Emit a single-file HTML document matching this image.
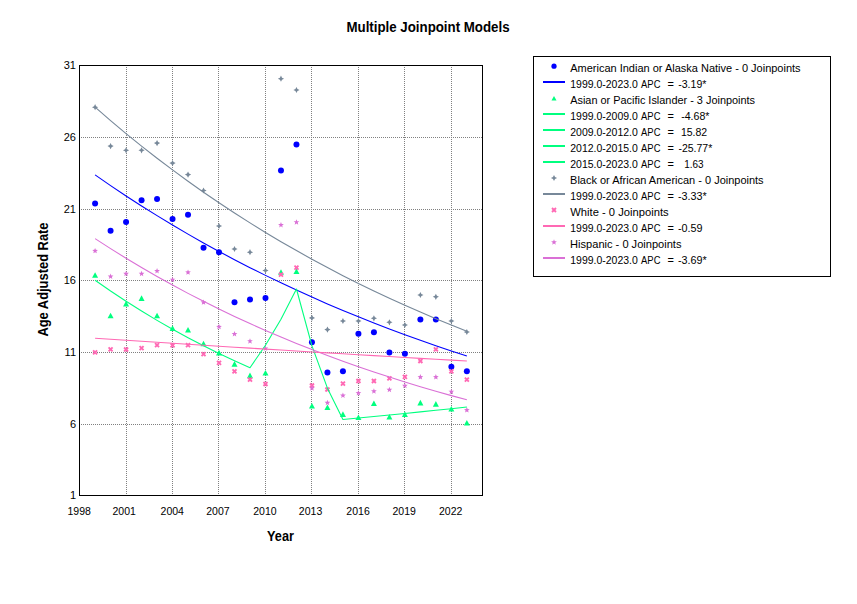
<!DOCTYPE html>
<html><head><meta charset="utf-8"><style>
html,body{margin:0;padding:0;background:#fff;width:857px;height:604px;overflow:hidden}
svg{display:block}
text{font-family:"Liberation Sans",sans-serif;fill:#000}
</style></head><body>
<svg width="857" height="604" viewBox="0 0 857 604">
<rect width="857" height="604" fill="#fff"/>

<text x="346.51" y="31.8" font-size="13.8" textLength="163.03" lengthAdjust="spacingAndGlyphs" font-weight="bold">Multiple Joinpoint Models</text>
<g shape-rendering="crispEdges"><line x1="126.5" y1="67" x2="126.5" y2="495" stroke="#808080" stroke-width="1" stroke-dasharray="1 1" stroke-dashoffset="0"/><line x1="172.5" y1="67" x2="172.5" y2="495" stroke="#808080" stroke-width="1" stroke-dasharray="1 1" stroke-dashoffset="0"/><line x1="218.5" y1="67" x2="218.5" y2="495" stroke="#808080" stroke-width="1" stroke-dasharray="1 1" stroke-dashoffset="0"/><line x1="265.5" y1="67" x2="265.5" y2="495" stroke="#808080" stroke-width="1" stroke-dasharray="1 1" stroke-dashoffset="0"/><line x1="311.5" y1="67" x2="311.5" y2="495" stroke="#808080" stroke-width="1" stroke-dasharray="1 1" stroke-dashoffset="0"/><line x1="358.5" y1="67" x2="358.5" y2="495" stroke="#808080" stroke-width="1" stroke-dasharray="1 1" stroke-dashoffset="0"/><line x1="404.5" y1="67" x2="404.5" y2="495" stroke="#808080" stroke-width="1" stroke-dasharray="1 1" stroke-dashoffset="0"/><line x1="451.5" y1="67" x2="451.5" y2="495" stroke="#808080" stroke-width="1" stroke-dasharray="1 1" stroke-dashoffset="0"/><line x1="81" y1="137.5" x2="482" y2="137.5" stroke="#808080" stroke-width="1" stroke-dasharray="1 1"/><line x1="81" y1="209.5" x2="482" y2="209.5" stroke="#808080" stroke-width="1" stroke-dasharray="1 1"/><line x1="81" y1="280.5" x2="482" y2="280.5" stroke="#808080" stroke-width="1" stroke-dasharray="1 1"/><line x1="81" y1="352.5" x2="482" y2="352.5" stroke="#808080" stroke-width="1" stroke-dasharray="1 1"/><line x1="81" y1="424.5" x2="482" y2="424.5" stroke="#808080" stroke-width="1" stroke-dasharray="1 1"/></g>
<rect x="79.5" y="65.5" width="403" height="430" fill="none" stroke="#000" stroke-width="1" shape-rendering="crispEdges"/>
<text x="76" y="68.6" text-anchor="end" font-size="11">31</text>
<text x="76" y="140.6" text-anchor="end" font-size="11">26</text>
<text x="76" y="212.6" text-anchor="end" font-size="11">21</text>
<text x="76" y="283.6" text-anchor="end" font-size="11">16</text>
<text x="76" y="355.6" text-anchor="end" font-size="11">11</text>
<text x="76" y="427.6" text-anchor="end" font-size="11">6</text>
<text x="76" y="498.6" text-anchor="end" font-size="11">1</text>
<text x="79.15" y="515" text-anchor="middle" font-size="10.5">1998</text>
<text x="124.15" y="515" text-anchor="middle" font-size="10.5">2001</text>
<text x="172.25" y="515" text-anchor="middle" font-size="10.5">2004</text>
<text x="217.95" y="515" text-anchor="middle" font-size="10.5">2007</text>
<text x="264.95" y="515" text-anchor="middle" font-size="10.5">2010</text>
<text x="310.55" y="515" text-anchor="middle" font-size="10.5">2013</text>
<text x="358.05" y="515" text-anchor="middle" font-size="10.5">2016</text>
<text x="404.15" y="515" text-anchor="middle" font-size="10.5">2019</text>
<text x="450.70" y="515" text-anchor="middle" font-size="10.5">2022</text>
<text x="267.09" y="540.7" font-size="13.8" textLength="26.90" lengthAdjust="spacingAndGlyphs" font-weight="bold">Year</text>
<g transform="rotate(-90)"><text x="-336.62" y="48" font-size="13.8" textLength="114.16" lengthAdjust="spacingAndGlyphs" font-weight="bold">Age Adjusted Rate</text></g>
<g><circle cx="95.09" cy="203.40" r="3" fill="#0000FF"/><path d="M95.09,272.20 L98.09,277.80 L92.09,277.80 Z" fill="#00FF7F"/><path d="M95.09,104.10 94.06,106.17 91.99,107.20 94.06,108.23 95.09,110.30 96.12,108.23 98.19,107.20 96.12,106.17 Z" fill="#778899"/><path d="M93.09,350.40 L97.09,354.40 M97.09,350.40 L93.09,354.40" stroke="#FF69B4" stroke-width="1.9" fill="none"/><path d="M95.09,247.90 94.33,249.85 92.24,249.97 93.85,251.30 93.33,253.33 95.09,252.20 96.85,253.33 96.33,251.30 97.94,249.97 95.85,249.85 Z" fill="#DA70D6"/><circle cx="110.58" cy="230.70" r="3" fill="#0000FF"/><path d="M110.58,312.70 L113.58,318.30 L107.58,318.30 Z" fill="#00FF7F"/><path d="M110.58,143.00 109.55,145.07 107.48,146.10 109.55,147.13 110.58,149.20 111.61,147.13 113.68,146.10 111.61,145.07 Z" fill="#778899"/><path d="M108.58,347.40 L112.58,351.40 M112.58,347.40 L108.58,351.40" stroke="#FF69B4" stroke-width="1.9" fill="none"/><path d="M110.58,273.50 109.82,275.45 107.73,275.57 109.34,276.90 108.82,278.93 110.58,277.80 112.34,278.93 111.82,276.90 113.43,275.57 111.34,275.45 Z" fill="#DA70D6"/><circle cx="126.07" cy="222.10" r="3" fill="#0000FF"/><path d="M126.07,300.80 L129.07,306.40 L123.07,306.40 Z" fill="#00FF7F"/><path d="M126.07,147.20 125.04,149.27 122.97,150.30 125.04,151.33 126.07,153.40 127.10,151.33 129.17,150.30 127.10,149.27 Z" fill="#778899"/><path d="M124.07,347.50 L128.07,351.50 M128.07,347.50 L124.07,351.50" stroke="#FF69B4" stroke-width="1.9" fill="none"/><path d="M126.07,270.80 125.31,272.75 123.22,272.87 124.83,274.20 124.31,276.23 126.07,275.10 127.83,276.23 127.31,274.20 128.92,272.87 126.83,272.75 Z" fill="#DA70D6"/><circle cx="141.56" cy="200.20" r="3" fill="#0000FF"/><path d="M141.56,295.30 L144.56,300.90 L138.56,300.90 Z" fill="#00FF7F"/><path d="M141.56,147.20 140.53,149.27 138.46,150.30 140.53,151.33 141.56,153.40 142.59,151.33 144.66,150.30 142.59,149.27 Z" fill="#778899"/><path d="M139.56,346.20 L143.56,350.20 M143.56,346.20 L139.56,350.20" stroke="#FF69B4" stroke-width="1.9" fill="none"/><path d="M141.56,270.80 140.80,272.75 138.71,272.87 140.32,274.20 139.80,276.23 141.56,275.10 143.32,276.23 142.80,274.20 144.41,272.87 142.32,272.75 Z" fill="#DA70D6"/><circle cx="157.05" cy="199.10" r="3" fill="#0000FF"/><path d="M157.05,312.70 L160.05,318.30 L154.05,318.30 Z" fill="#00FF7F"/><path d="M157.05,140.00 156.02,142.07 153.95,143.10 156.02,144.13 157.05,146.20 158.08,144.13 160.15,143.10 158.08,142.07 Z" fill="#778899"/><path d="M155.05,343.20 L159.05,347.20 M159.05,343.20 L155.05,347.20" stroke="#FF69B4" stroke-width="1.9" fill="none"/><path d="M157.05,268.00 156.29,269.95 154.20,270.07 155.81,271.40 155.29,273.43 157.05,272.30 158.81,273.43 158.29,271.40 159.90,270.07 157.81,269.95 Z" fill="#DA70D6"/><circle cx="172.54" cy="218.90" r="3" fill="#0000FF"/><path d="M172.54,325.30 L175.54,330.90 L169.54,330.90 Z" fill="#00FF7F"/><path d="M172.54,160.00 171.51,162.07 169.44,163.10 171.51,164.13 172.54,166.20 173.57,164.13 175.64,163.10 173.57,162.07 Z" fill="#778899"/><path d="M170.54,343.30 L174.54,347.30 M174.54,343.30 L170.54,347.30" stroke="#FF69B4" stroke-width="1.9" fill="none"/><path d="M172.54,276.70 171.78,278.65 169.69,278.77 171.30,280.10 170.78,282.13 172.54,281.00 174.30,282.13 173.78,280.10 175.39,278.77 173.30,278.65 Z" fill="#DA70D6"/><circle cx="188.03" cy="214.70" r="3" fill="#0000FF"/><path d="M188.03,326.90 L191.03,332.50 L185.03,332.50 Z" fill="#00FF7F"/><path d="M188.03,171.50 187.00,173.57 184.93,174.60 187.00,175.63 188.03,177.70 189.06,175.63 191.13,174.60 189.06,173.57 Z" fill="#778899"/><path d="M186.03,343.10 L190.03,347.10 M190.03,343.10 L186.03,347.10" stroke="#FF69B4" stroke-width="1.9" fill="none"/><path d="M188.03,269.40 187.27,271.35 185.18,271.47 186.79,272.80 186.27,274.83 188.03,273.70 189.79,274.83 189.27,272.80 190.88,271.47 188.79,271.35 Z" fill="#DA70D6"/><circle cx="203.52" cy="247.70" r="3" fill="#0000FF"/><path d="M203.52,340.70 L206.52,346.30 L200.52,346.30 Z" fill="#00FF7F"/><path d="M203.52,187.40 202.49,189.47 200.42,190.50 202.49,191.53 203.52,193.60 204.55,191.53 206.62,190.50 204.55,189.47 Z" fill="#778899"/><path d="M201.52,352.10 L205.52,356.10 M205.52,352.10 L201.52,356.10" stroke="#FF69B4" stroke-width="1.9" fill="none"/><path d="M203.52,299.40 202.76,301.35 200.67,301.47 202.28,302.80 201.76,304.83 203.52,303.70 205.28,304.83 204.76,302.80 206.37,301.47 204.28,301.35 Z" fill="#DA70D6"/><circle cx="219.01" cy="252.20" r="3" fill="#0000FF"/><path d="M219.01,349.80 L222.01,355.40 L216.01,355.40 Z" fill="#00FF7F"/><path d="M219.01,222.90 217.98,224.97 215.91,226.00 217.98,227.03 219.01,229.10 220.04,227.03 222.11,226.00 220.04,224.97 Z" fill="#778899"/><path d="M217.01,360.80 L221.01,364.80 M221.01,360.80 L217.01,364.80" stroke="#FF69B4" stroke-width="1.9" fill="none"/><path d="M219.01,323.90 218.25,325.85 216.16,325.97 217.77,327.30 217.25,329.33 219.01,328.20 220.77,329.33 220.25,327.30 221.86,325.97 219.77,325.85 Z" fill="#DA70D6"/><circle cx="234.50" cy="302.30" r="3" fill="#0000FF"/><path d="M234.50,361.10 L237.50,366.70 L231.50,366.70 Z" fill="#00FF7F"/><path d="M234.50,245.90 233.47,247.97 231.40,249.00 233.47,250.03 234.50,252.10 235.53,250.03 237.60,249.00 235.53,247.97 Z" fill="#778899"/><path d="M232.50,369.40 L236.50,373.40 M236.50,369.40 L232.50,373.40" stroke="#FF69B4" stroke-width="1.9" fill="none"/><path d="M234.50,331.00 233.74,332.95 231.65,333.07 233.26,334.40 232.74,336.43 234.50,335.30 236.26,336.43 235.74,334.40 237.35,333.07 235.26,332.95 Z" fill="#DA70D6"/><circle cx="249.99" cy="299.40" r="3" fill="#0000FF"/><path d="M249.99,372.60 L252.99,378.20 L246.99,378.20 Z" fill="#00FF7F"/><path d="M249.99,249.10 248.96,251.17 246.89,252.20 248.96,253.23 249.99,255.30 251.02,253.23 253.09,252.20 251.02,251.17 Z" fill="#778899"/><path d="M247.99,377.70 L251.99,381.70 M251.99,377.70 L247.99,381.70" stroke="#FF69B4" stroke-width="1.9" fill="none"/><path d="M249.99,338.20 249.23,340.15 247.14,340.27 248.75,341.60 248.23,343.63 249.99,342.50 251.75,343.63 251.23,341.60 252.84,340.27 250.75,340.15 Z" fill="#DA70D6"/><circle cx="265.48" cy="298.00" r="3" fill="#0000FF"/><path d="M265.48,370.00 L268.48,375.60 L262.48,375.60 Z" fill="#00FF7F"/><path d="M265.48,267.40 264.45,269.47 262.38,270.50 264.45,271.53 265.48,273.60 266.51,271.53 268.58,270.50 266.51,269.47 Z" fill="#778899"/><path d="M263.48,382.00 L267.48,386.00 M267.48,382.00 L263.48,386.00" stroke="#FF69B4" stroke-width="1.9" fill="none"/><path d="M265.48,345.50 264.72,347.45 262.63,347.57 264.24,348.90 263.72,350.93 265.48,349.80 267.24,350.93 266.72,348.90 268.33,347.57 266.24,347.45 Z" fill="#DA70D6"/><circle cx="280.97" cy="170.40" r="3" fill="#0000FF"/><path d="M280.97,269.20 L283.97,274.80 L277.97,274.80 Z" fill="#00FF7F"/><path d="M280.97,75.60 279.94,77.67 277.87,78.70 279.94,79.73 280.97,81.80 282.00,79.73 284.07,78.70 282.00,77.67 Z" fill="#778899"/><path d="M278.97,272.60 L282.97,276.60 M282.97,272.60 L278.97,276.60" stroke="#FF69B4" stroke-width="1.9" fill="none"/><path d="M280.97,222.00 280.21,223.95 278.12,224.07 279.73,225.40 279.21,227.43 280.97,226.30 282.73,227.43 282.21,225.40 283.82,224.07 281.73,223.95 Z" fill="#DA70D6"/><circle cx="296.46" cy="144.60" r="3" fill="#0000FF"/><path d="M296.46,268.50 L299.46,274.10 L293.46,274.10 Z" fill="#00FF7F"/><path d="M296.46,86.90 295.43,88.97 293.36,90.00 295.43,91.03 296.46,93.10 297.49,91.03 299.56,90.00 297.49,88.97 Z" fill="#778899"/><path d="M294.46,265.60 L298.46,269.60 M298.46,265.60 L294.46,269.60" stroke="#FF69B4" stroke-width="1.9" fill="none"/><path d="M296.46,219.20 295.70,221.15 293.61,221.27 295.22,222.60 294.70,224.63 296.46,223.50 298.22,224.63 297.70,222.60 299.31,221.27 297.22,221.15 Z" fill="#DA70D6"/><circle cx="311.95" cy="342.30" r="3" fill="#0000FF"/><path d="M311.95,402.90 L314.95,408.50 L308.95,408.50 Z" fill="#00FF7F"/><path d="M311.95,314.80 310.92,316.87 308.85,317.90 310.92,318.93 311.95,321.00 312.98,318.93 315.05,317.90 312.98,316.87 Z" fill="#778899"/><path d="M309.95,383.50 L313.95,387.50 M313.95,383.50 L309.95,387.50" stroke="#FF69B4" stroke-width="1.9" fill="none"/><path d="M311.95,385.20 311.19,387.15 309.10,387.27 310.71,388.60 310.19,390.63 311.95,389.50 313.71,390.63 313.19,388.60 314.80,387.27 312.71,387.15 Z" fill="#DA70D6"/><circle cx="327.44" cy="372.40" r="3" fill="#0000FF"/><path d="M327.44,404.40 L330.44,410.00 L324.44,410.00 Z" fill="#00FF7F"/><path d="M327.44,326.50 326.41,328.57 324.34,329.60 326.41,330.63 327.44,332.70 328.47,330.63 330.54,329.60 328.47,328.57 Z" fill="#778899"/><path d="M325.44,387.50 L329.44,391.50 M329.44,387.50 L325.44,391.50" stroke="#FF69B4" stroke-width="1.9" fill="none"/><path d="M327.44,399.80 326.68,401.75 324.59,401.87 326.20,403.20 325.68,405.23 327.44,404.10 329.20,405.23 328.68,403.20 330.29,401.87 328.20,401.75 Z" fill="#DA70D6"/><circle cx="342.93" cy="371.30" r="3" fill="#0000FF"/><path d="M342.93,411.30 L345.93,416.90 L339.93,416.90 Z" fill="#00FF7F"/><path d="M342.93,317.90 341.90,319.97 339.83,321.00 341.90,322.03 342.93,324.10 343.96,322.03 346.03,321.00 343.96,319.97 Z" fill="#778899"/><path d="M340.93,381.70 L344.93,385.70 M344.93,381.70 L340.93,385.70" stroke="#FF69B4" stroke-width="1.9" fill="none"/><path d="M342.93,392.50 342.17,394.45 340.08,394.57 341.69,395.90 341.17,397.93 342.93,396.80 344.69,397.93 344.17,395.90 345.78,394.57 343.69,394.45 Z" fill="#DA70D6"/><circle cx="358.42" cy="333.80" r="3" fill="#0000FF"/><path d="M358.42,414.40 L361.42,420.00 L355.42,420.00 Z" fill="#00FF7F"/><path d="M358.42,317.90 357.39,319.97 355.32,321.00 357.39,322.03 358.42,324.10 359.45,322.03 361.52,321.00 359.45,319.97 Z" fill="#778899"/><path d="M356.42,379.00 L360.42,383.00 M360.42,379.00 L356.42,383.00" stroke="#FF69B4" stroke-width="1.9" fill="none"/><path d="M358.42,390.10 357.66,392.05 355.57,392.17 357.18,393.50 356.66,395.53 358.42,394.40 360.18,395.53 359.66,393.50 361.27,392.17 359.18,392.05 Z" fill="#DA70D6"/><circle cx="373.91" cy="332.30" r="3" fill="#0000FF"/><path d="M373.91,400.40 L376.91,406.00 L370.91,406.00 Z" fill="#00FF7F"/><path d="M373.91,315.20 372.88,317.27 370.81,318.30 372.88,319.33 373.91,321.40 374.94,319.33 377.01,318.30 374.94,317.27 Z" fill="#778899"/><path d="M371.91,379.00 L375.91,383.00 M375.91,379.00 L371.91,383.00" stroke="#FF69B4" stroke-width="1.9" fill="none"/><path d="M373.91,388.30 373.15,390.25 371.06,390.37 372.67,391.70 372.15,393.73 373.91,392.60 375.67,393.73 375.15,391.70 376.76,390.37 374.67,390.25 Z" fill="#DA70D6"/><circle cx="389.40" cy="352.40" r="3" fill="#0000FF"/><path d="M389.40,413.90 L392.40,419.50 L386.40,419.50 Z" fill="#00FF7F"/><path d="M389.40,319.20 388.37,321.27 386.30,322.30 388.37,323.33 389.40,325.40 390.43,323.33 392.50,322.30 390.43,321.27 Z" fill="#778899"/><path d="M387.40,376.30 L391.40,380.30 M391.40,376.30 L387.40,380.30" stroke="#FF69B4" stroke-width="1.9" fill="none"/><path d="M389.40,386.80 388.64,388.75 386.55,388.87 388.16,390.20 387.64,392.23 389.40,391.10 391.16,392.23 390.64,390.20 392.25,388.87 390.16,388.75 Z" fill="#DA70D6"/><circle cx="404.89" cy="353.80" r="3" fill="#0000FF"/><path d="M404.89,411.30 L407.89,416.90 L401.89,416.90 Z" fill="#00FF7F"/><path d="M404.89,321.90 403.86,323.97 401.79,325.00 403.86,326.03 404.89,328.10 405.92,326.03 407.99,325.00 405.92,323.97 Z" fill="#778899"/><path d="M402.89,374.80 L406.89,378.80 M406.89,374.80 L402.89,378.80" stroke="#FF69B4" stroke-width="1.9" fill="none"/><path d="M404.89,382.80 404.13,384.75 402.04,384.87 403.65,386.20 403.13,388.23 404.89,387.10 406.65,388.23 406.13,386.20 407.74,384.87 405.65,384.75 Z" fill="#DA70D6"/><circle cx="420.38" cy="319.40" r="3" fill="#0000FF"/><path d="M420.38,399.80 L423.38,405.40 L417.38,405.40 Z" fill="#00FF7F"/><path d="M420.38,291.90 419.35,293.97 417.28,295.00 419.35,296.03 420.38,298.10 421.41,296.03 423.48,295.00 421.41,293.97 Z" fill="#778899"/><path d="M418.38,359.00 L422.38,363.00 M422.38,359.00 L418.38,363.00" stroke="#FF69B4" stroke-width="1.9" fill="none"/><path d="M420.38,374.10 419.62,376.05 417.53,376.17 419.14,377.50 418.62,379.53 420.38,378.40 422.14,379.53 421.62,377.50 423.23,376.17 421.14,376.05 Z" fill="#DA70D6"/><circle cx="435.87" cy="319.40" r="3" fill="#0000FF"/><path d="M435.87,401.10 L438.87,406.70 L432.87,406.70 Z" fill="#00FF7F"/><path d="M435.87,293.70 434.84,295.77 432.77,296.80 434.84,297.83 435.87,299.90 436.90,297.83 438.97,296.80 436.90,295.77 Z" fill="#778899"/><path d="M433.87,347.40 L437.87,351.40 M437.87,347.40 L433.87,351.40" stroke="#FF69B4" stroke-width="1.9" fill="none"/><path d="M435.87,374.10 435.11,376.05 433.02,376.17 434.63,377.50 434.11,379.53 435.87,378.40 437.63,379.53 437.11,377.50 438.72,376.17 436.63,376.05 Z" fill="#DA70D6"/><circle cx="451.36" cy="366.80" r="3" fill="#0000FF"/><path d="M451.36,405.90 L454.36,411.50 L448.36,411.50 Z" fill="#00FF7F"/><path d="M451.36,317.90 450.33,319.97 448.26,321.00 450.33,322.03 451.36,324.10 452.39,322.03 454.46,321.00 452.39,319.97 Z" fill="#778899"/><path d="M449.36,369.30 L453.36,373.30 M453.36,369.30 L449.36,373.30" stroke="#FF69B4" stroke-width="1.9" fill="none"/><path d="M451.36,388.70 450.60,390.65 448.51,390.77 450.12,392.10 449.60,394.13 451.36,393.00 453.12,394.13 452.60,392.10 454.21,390.77 452.12,390.65 Z" fill="#DA70D6"/><circle cx="466.85" cy="371.30" r="3" fill="#0000FF"/><path d="M466.85,419.90 L469.85,425.50 L463.85,425.50 Z" fill="#00FF7F"/><path d="M466.85,328.90 465.82,330.97 463.75,332.00 465.82,333.03 466.85,335.10 467.88,333.03 469.95,332.00 467.88,330.97 Z" fill="#778899"/><path d="M464.85,377.70 L468.85,381.70 M468.85,377.70 L464.85,381.70" stroke="#FF69B4" stroke-width="1.9" fill="none"/><path d="M466.85,407.10 466.09,409.05 464.00,409.17 465.61,410.50 465.09,412.53 466.85,411.40 468.61,412.53 468.09,410.50 469.70,409.17 467.61,409.05 Z" fill="#DA70D6"/></g>
<defs><clipPath id="pc"><rect x="80" y="66" width="402" height="429"/></clipPath></defs>
<g clip-path="url(#pc)" fill="none" stroke-width="1.1" stroke-linejoin="round">
<polyline points="95.09,107.20 110.58,120.61 126.07,133.57 141.56,146.10 157.05,158.21 172.54,169.92 188.03,181.24 203.52,192.18 219.01,202.76 234.50,212.98 249.99,222.87 265.48,232.43 280.97,241.66 296.46,250.59 311.95,259.23 327.44,267.57 342.93,275.64 358.42,283.44 373.91,290.98 389.40,298.26 404.89,305.31 420.38,312.12 435.87,318.70 451.36,325.07 466.85,331.22" stroke="#778899"/>
<polyline points="95.09,174.90 110.58,185.58 126.07,195.93 141.56,205.94 157.05,215.64 172.54,225.02 188.03,234.11 203.52,242.90 219.01,251.42 234.50,259.66 249.99,267.64 265.48,275.37 280.97,282.85 296.46,290.09 311.95,297.10 327.44,303.88 342.93,310.45 358.42,316.81 373.91,322.97 389.40,328.93 404.89,334.70 420.38,340.29 435.87,345.70 451.36,350.93 466.85,356.00" stroke="#0000FF"/>
<polyline points="95.09,280.30 110.58,291.04 126.07,301.28 141.56,311.04 157.05,320.35 172.54,329.21 188.03,337.67 203.52,345.72 219.01,353.40 234.50,360.72 249.99,367.70 265.48,345.22 280.97,319.18 296.46,289.01 311.95,345.92 327.44,388.16 342.93,419.51 358.42,418.04 373.91,416.55 389.40,415.03 404.89,413.48 420.38,411.91 435.87,410.31 451.36,408.69 466.85,407.04" stroke="#00FF7F"/>
<polyline points="95.09,238.60 110.58,248.61 126.07,258.25 141.56,267.53 157.05,276.47 172.54,285.08 188.03,293.38 203.52,301.36 219.01,309.06 234.50,316.46 249.99,323.60 265.48,330.47 280.97,337.09 296.46,343.46 311.95,349.60 327.44,355.52 342.93,361.21 358.42,366.69 373.91,371.98 389.40,377.06 404.89,381.96 420.38,386.68 435.87,391.22 451.36,395.60 466.85,399.82" stroke="#DA70D6"/>
<polyline points="95.09,338.30 110.58,339.31 126.07,340.32 141.56,341.32 157.05,342.31 172.54,343.30 188.03,344.28 203.52,345.26 219.01,346.23 234.50,347.20 249.99,348.16 265.48,349.11 280.97,350.06 296.46,351.00 311.95,351.94 327.44,352.87 342.93,353.80 358.42,354.72 373.91,355.63 389.40,356.54 404.89,357.45 420.38,358.34 435.87,359.24 451.36,360.13 466.85,361.01" stroke="#FF69B4"/>
</g>
<rect x="533.5" y="56.5" width="297" height="220" fill="none" stroke="#000" stroke-width="1" shape-rendering="crispEdges"/>
<circle cx="554" cy="66.2" r="2.6" fill="#0000FF"/>
<text x="570.18" y="72" font-size="11" textLength="230.42" lengthAdjust="spacingAndGlyphs">American Indian or Alaska Native - 0 Joinpoints</text>
<line x1="543" y1="82" x2="565" y2="82" stroke="#0000FF" stroke-width="2"/>
<text x="570.30" y="88" font-size="11" textLength="67.51" lengthAdjust="spacingAndGlyphs">1999.0-2023.0</text>
<text x="641.08" y="88" font-size="11" textLength="19.38" lengthAdjust="spacingAndGlyphs">APC</text>
<text x="667.5" y="88" font-size="11">=</text>
<text x="678.23" y="88" font-size="11" textLength="28.23" lengthAdjust="spacingAndGlyphs">-3.19*</text>
<path d="M554,96.0 L556.5,100.5 L551.5,100.5 Z" fill="#00FF7F"/>
<text x="570.18" y="104" font-size="11" textLength="184.91" lengthAdjust="spacingAndGlyphs">Asian or Pacific Islander - 3 Joinpoints</text>
<line x1="543" y1="114" x2="565" y2="114" stroke="#00FF7F" stroke-width="2"/>
<text x="570.30" y="120" font-size="11" textLength="67.51" lengthAdjust="spacingAndGlyphs">1999.0-2009.0</text>
<text x="641.08" y="120" font-size="11" textLength="19.38" lengthAdjust="spacingAndGlyphs">APC</text>
<text x="667.5" y="120" font-size="11">=</text>
<text x="681.23" y="120" font-size="11" textLength="28.23" lengthAdjust="spacingAndGlyphs">-4.68*</text>
<line x1="543" y1="130" x2="565" y2="130" stroke="#00FF7F" stroke-width="2"/>
<text x="570.30" y="136" font-size="11" textLength="67.51" lengthAdjust="spacingAndGlyphs">2009.0-2012.0</text>
<text x="641.08" y="136" font-size="11" textLength="19.38" lengthAdjust="spacingAndGlyphs">APC</text>
<text x="667.5" y="136" font-size="11">=</text>
<text x="680.90" y="136" font-size="11" textLength="26.23" lengthAdjust="spacingAndGlyphs">15.82</text>
<line x1="543" y1="146" x2="565" y2="146" stroke="#00FF7F" stroke-width="2"/>
<text x="570.30" y="152" font-size="11" textLength="67.51" lengthAdjust="spacingAndGlyphs">2012.0-2015.0</text>
<text x="641.08" y="152" font-size="11" textLength="19.38" lengthAdjust="spacingAndGlyphs">APC</text>
<text x="667.5" y="152" font-size="11">=</text>
<text x="678.43" y="152" font-size="11" textLength="33.83" lengthAdjust="spacingAndGlyphs">-25.77*</text>
<line x1="543" y1="162" x2="565" y2="162" stroke="#00FF7F" stroke-width="2"/>
<text x="570.30" y="168" font-size="11" textLength="67.51" lengthAdjust="spacingAndGlyphs">2015.0-2023.0</text>
<text x="641.08" y="168" font-size="11" textLength="19.38" lengthAdjust="spacingAndGlyphs">APC</text>
<text x="667.5" y="168" font-size="11">=</text>
<text x="684.14" y="168" font-size="11" textLength="19.40" lengthAdjust="spacingAndGlyphs">1.63</text>
<path d="M554.00,174.90 552.97,176.97 550.90,178.00 552.97,179.03 554.00,181.10 555.03,179.03 557.10,178.00 555.03,176.97 Z" fill="#778899"/>
<text x="570.11" y="184" font-size="11" textLength="193.49" lengthAdjust="spacingAndGlyphs">Black or African American - 0 Joinpoints</text>
<line x1="543" y1="194" x2="565" y2="194" stroke="#778899" stroke-width="2"/>
<text x="570.30" y="200" font-size="11" textLength="67.51" lengthAdjust="spacingAndGlyphs">1999.0-2023.0</text>
<text x="641.08" y="200" font-size="11" textLength="19.38" lengthAdjust="spacingAndGlyphs">APC</text>
<text x="667.5" y="200" font-size="11">=</text>
<text x="678.02" y="200" font-size="11" textLength="28.75" lengthAdjust="spacingAndGlyphs">-3.33*</text>
<path d="M552.00,208.00 L556.00,212.00 M556.00,208.00 L552.00,212.00" stroke="#FF69B4" stroke-width="1.9" fill="none"/>
<text x="570.25" y="216" font-size="11" textLength="98.35" lengthAdjust="spacingAndGlyphs">White - 0 Joinpoints</text>
<line x1="543" y1="226" x2="565" y2="226" stroke="#FF69B4" stroke-width="2"/>
<text x="570.30" y="232" font-size="11" textLength="67.51" lengthAdjust="spacingAndGlyphs">1999.0-2023.0</text>
<text x="641.08" y="232" font-size="11" textLength="19.38" lengthAdjust="spacingAndGlyphs">APC</text>
<text x="667.5" y="232" font-size="11">=</text>
<text x="678.02" y="232" font-size="11" textLength="24.59" lengthAdjust="spacingAndGlyphs">-0.59</text>
<path d="M554.00,239.30 553.24,241.25 551.15,241.37 552.76,242.70 552.24,244.73 554.00,243.60 555.76,244.73 555.24,242.70 556.85,241.37 554.76,241.25 Z" fill="#DA70D6"/>
<text x="570.09" y="248" font-size="11" textLength="111.41" lengthAdjust="spacingAndGlyphs">Hispanic - 0 Joinpoints</text>
<line x1="543" y1="258" x2="565" y2="258" stroke="#DA70D6" stroke-width="2"/>
<text x="570.30" y="264" font-size="11" textLength="67.51" lengthAdjust="spacingAndGlyphs">1999.0-2023.0</text>
<text x="641.08" y="264" font-size="11" textLength="19.38" lengthAdjust="spacingAndGlyphs">APC</text>
<text x="667.5" y="264" font-size="11">=</text>
<text x="678.02" y="264" font-size="11" textLength="28.75" lengthAdjust="spacingAndGlyphs">-3.69*</text>
</svg></body></html>
